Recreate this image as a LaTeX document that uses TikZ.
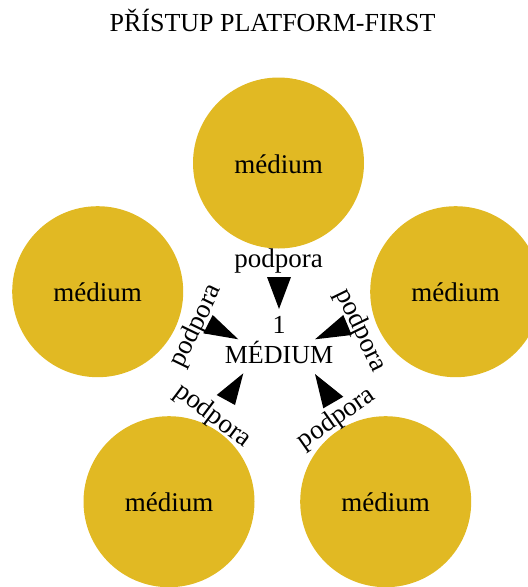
\documentclass[tikz,border=0pt]{standalone}
\usepackage{fontspec}
\setmainfont{Liberation Serif}
\definecolor{gold}{RGB}{225,185,35}
\begin{document}
\begin{tikzpicture}[x=1pt,y=-1pt,
  txt/.style={font=\fontsize{26}{30}\selectfont, inner sep=0pt},
  smalltxt/.style={font=\fontsize{27}{30}\selectfont, inner sep=0pt},
  sat/.style={circle, fill=gold, minimum size=171pt, inner sep=0pt},
  lbl/.style={smalltxt, anchor=center},
  tipfill/.style={fill=black}]
\useasboundingbox (0,0) rectangle (528,587);
\node[txt, anchor=base] (title) at (272.5,31) {PŘÍSTUP PLATFORM-FIRST};
\node[sat] (top) at (278.5,163) {};
\node[sat] (left) at (97.7,291.7) {};
\node[sat] (right) at (455.7,291.7) {};
\node[sat] (bl) at (169,501.7) {};
\node[sat] (br) at (385.7,501.7) {};
\node[smalltxt, anchor=base] (ttop) at (278.5,173) {médium};
\node[smalltxt, anchor=base] (tleft) at (97.7,301.5) {médium};
\node[smalltxt, anchor=base] (tright) at (455.7,301.5) {médium};
\node[smalltxt, anchor=base] (tbl) at (169,511.5) {médium};
\node[smalltxt, anchor=base] (tbr) at (385.7,511.5) {médium};
\node[txt, anchor=base] (one) at (279,333) {1};
\node[txt, anchor=base] (center) at (279,363) {MÉDIUM};
\node[smalltxt, anchor=base] (ltop) at (278.5,267.3) {podpora};
\node[lbl, rotate=64] (lleft) at (196,326) {podpora};
\node[lbl, rotate=-64] (lright) at (360.5,330.5) {podpora};
\node[lbl, rotate=-37] (lbl) at (212.5,416) {podpora};
\node[lbl, rotate=35] (lbr) at (336.5,418.5) {podpora};
\fill[tipfill] (267,277) -- (291,277) -- (279,309) -- cycle;
\fill[tipfill] (212.7,315) -- (203.3,333.3) -- (238.3,339.3) -- cycle;
\fill[tipfill] (343.3,315) -- (351.7,335) -- (315,339.3) -- cycle;
\fill[tipfill] (243.3,373.3) -- (216.7,395) -- (235,405) -- cycle;
\fill[tipfill] (315,374) -- (343.3,396.7) -- (323.3,408.3) -- cycle;
\end{tikzpicture}
\end{document}
